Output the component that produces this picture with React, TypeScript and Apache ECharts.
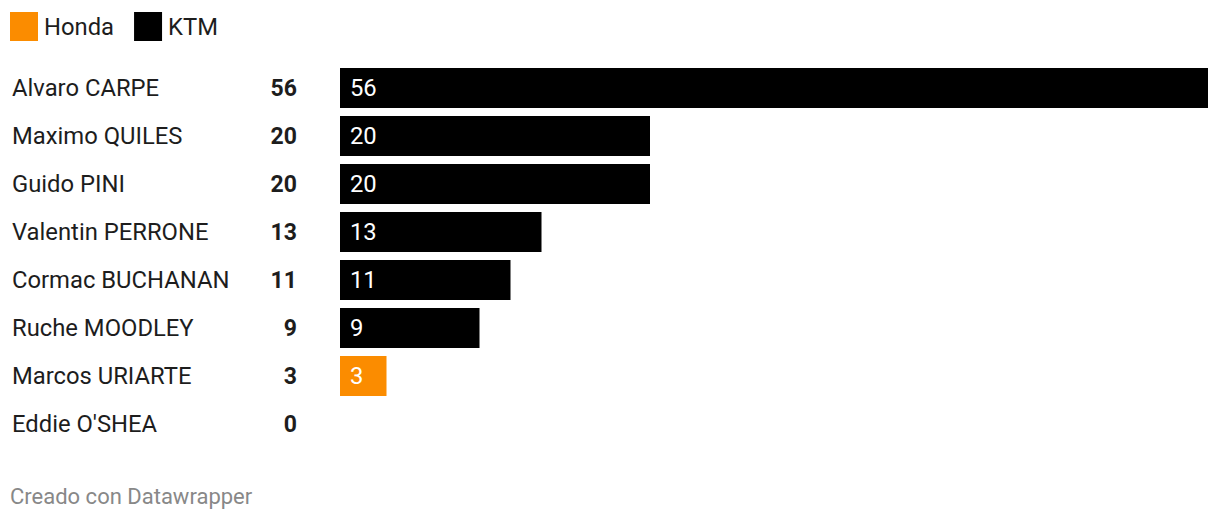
import React, { useEffect, useRef } from "react";
import * as echarts from "echarts";

const riders = [
  "Alvaro CARPE",
  "Maximo QUILES",
  "Guido PINI",
  "Valentin PERRONE",
  "Cormac BUCHANAN",
  "Ruche MOODLEY",
  "Marcos URIARTE",
  "Eddie O'SHEA",
];
const points = [56, 20, 20, 13, 11, 9, 3, 0];
const teams = ["KTM", "KTM", "KTM", "KTM", "KTM", "KTM", "Honda", "KTM"];
const teamNames = ["Honda", "KTM"];
const teamColors = ["#fb8c00", "#000000"];

const FONT = "Roboto, 'Noto Sans', sans-serif";
const FS = 23.8;

export default function App() {
  const ref = useRef<HTMLDivElement>(null);
  useEffect(() => {
    if (!ref.current) return;
    const chart = echarts.init(ref.current, undefined, { renderer: "svg" });
    const series = teamNames.map((t, ti) => ({
      name: t,
      type: "bar",
      stack: "total",
      barWidth: 40,
      itemStyle: { color: teamColors[ti] },
      label: {
        show: true,
        position: "insideLeft",
        distance: 10,
        color: "#ffffff",
        fontSize: FS,
        fontFamily: FONT,
        formatter: (p: any) => (p.value > 0 ? String(p.value) : ""),
      },
      data: points.map((v, i) => (teams[i] === t ? v : "-")),
    }));
    chart.setOption({
      animation: false,
      textStyle: { fontFamily: FONT },
      legend: {
        left: 10,
        top: 12,
        padding: 0,
        icon: "rect",
        itemWidth: 28,
        itemHeight: 29,
        itemGap: 20,
        textStyle: { fontSize: FS, color: "#1d1d1d", fontFamily: FONT, padding: [0, 0, 0, 1] },
        selectedMode: false,
        data: teamNames,
      },
      grid: { left: 340, right: 12, top: 64, height: 384, containLabel: false },
      xAxis: {
        type: "value",
        min: 0,
        max: 56,
        show: false,
      },
      yAxis: {
        type: "category",
        inverse: true,
        data: riders,
        axisLine: { show: false },
        axisTick: { show: false },
        axisLabel: {
          align: "left",
          margin: 328,
          formatter: (val: string, idx: number) => `{n|${val}}{v|${points[idx]}}`,
          rich: {
            n: { width: 245, align: "left", fontSize: FS, color: "#1d1d1d", fontFamily: FONT },
            v: { width: 40, align: "right", fontSize: 23, fontWeight: "bold", color: "#1d1d1d", fontFamily: FONT },
          },
        },
      },
      graphic: [
        {
          type: "text",
          left: 10,
          top: 485,
          style: { text: "Creado con Datawrapper", fontSize: 22, fill: "#888888", fontFamily: FONT },
        },
      ],
      series,
    });
    return () => chart.dispose();
  }, []);
  return (
    <div
      ref={ref}
      style={{ position: "fixed", left: 0, top: 0, width: 1220, height: 522, background: "#ffffff" }}
    />
  );
}
